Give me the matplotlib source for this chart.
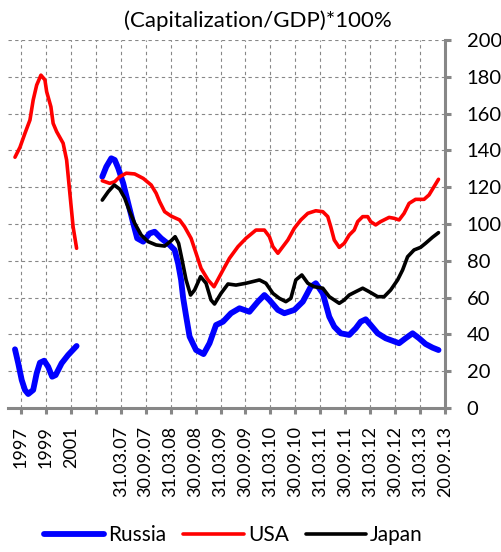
import matplotlib
matplotlib.use("Agg")
import matplotlib.pyplot as plt

plt.rcParams['font.family'] = ['Lato', 'DejaVu Sans']

tick_labels = ["1997", "1999", "2001", "",
               "31.03.07", "30.09.07", "31.03.08", "30.09.08", "31.03.09",
               "30.09.09", "31.03.10", "30.09.10", "31.03.11", "30.09.11",
               "31.03.12", "30.09.12", "31.03.13", "20.09.13"]

# 1997-2001 part (x in years)
usa_early_t = [1996.52, 1996.92, 1997.32, 1997.72, 1997.98, 1998.26, 1998.6, 1998.92,
               1999.06, 1999.4, 1999.58, 1999.86, 2000.38, 2000.66, 2000.92, 2001.18, 2001.46]
usa_early = [136.3, 141.7, 149.3, 156.5, 167.4, 175.5, 180.9, 178.3,
             171.9, 163.7, 154.7, 150.2, 143.9, 134.8, 116.7, 98.5, 86.8]

rus_early_t = [1996.52, 1996.78, 1997.06, 1997.32, 1997.58, 1997.98, 1998.26, 1998.52,
               1998.86, 1999.18, 1999.5, 1999.78, 2000.26, 2000.78, 2001.46]
rus_early = [31.9, 24.3, 15.2, 9.8, 7.6, 9.8, 18.9, 24.6,
             25.7, 22.4, 17.0, 17.9, 24.3, 28.8, 33.7]

# 2007-2013 part (x in years)
rus_t = [2006.88, 2006.96, 2007.06, 2007.13, 2007.2, 2007.3, 2007.4, 2007.5, 2007.58,
         2007.7, 2007.83, 2007.93, 2008.06, 2008.23, 2008.33, 2008.4, 2008.46, 2008.5,
         2008.56, 2008.63, 2008.76, 2008.91, 2009.03, 2009.16, 2009.3, 2009.46, 2009.63,
         2009.83, 2010.0, 2010.13, 2010.23, 2010.4, 2010.53, 2010.73, 2010.9, 2011.06,
         2011.16, 2011.3, 2011.43, 2011.53, 2011.66, 2011.83, 2011.96, 2012.06, 2012.16,
         2012.26, 2012.4, 2012.56, 2012.83, 2012.96, 2013.1, 2013.23, 2013.36, 2013.5, 2013.62]
rus = [125.7, 131.1, 135.7, 134.8, 130.3, 122.1, 111.2, 100.4, 92.2,
       90.4, 94.9, 95.8, 92.2, 88.6, 85.9, 78.6, 69.6, 60.0,
       50.0, 38.8, 31.5, 29.3, 35.2, 45.1, 46.9, 51.5, 54.2,
       52.3, 57.8, 61.4, 58.7, 53.3, 51.5, 53.3, 57.8, 65.9,
       67.8, 62.3, 49.6, 44.2, 40.6, 39.7, 43.3, 46.9, 48.2,
       45.1, 40.6, 37.9, 35.2, 37.9, 40.6, 37.9, 34.8, 32.8, 31.5]

usa_t = [2006.88, 2007.03, 2007.13, 2007.23, 2007.36, 2007.53, 2007.7, 2007.86, 2007.96,
         2008.03, 2008.13, 2008.26, 2008.43, 2008.53, 2008.66, 2008.76, 2008.86, 2009.0,
         2009.12, 2009.3, 2009.43, 2009.6, 2009.76, 2009.96, 2010.13, 2010.23, 2010.3,
         2010.4, 2010.5, 2010.6, 2010.73, 2010.86, 2011.0, 2011.16, 2011.3, 2011.4,
         2011.46, 2011.53, 2011.63, 2011.73, 2011.83, 2011.93, 2012.0, 2012.1, 2012.2,
         2012.26, 2012.36, 2012.46, 2012.63, 2012.73, 2012.83, 2012.93, 2013.03, 2013.16,
         2013.33, 2013.43, 2013.53, 2013.62]
usa = [123.5, 122.1, 123.0, 125.7, 127.6, 127.2, 124.8, 121.2, 116.7,
       112.1, 106.7, 104.3, 102.2, 98.5, 92.2, 84.1, 75.9, 69.6,
       65.9, 75.0, 81.4, 87.7, 92.2, 96.7, 96.7, 93.1, 87.7,
       84.1, 87.7, 91.3, 97.7, 102.2, 105.8, 107.2, 106.7, 104.0,
       98.5, 91.3, 87.3, 89.5, 94.0, 96.7, 101.3, 104.0, 104.0,
       101.3, 99.5, 101.3, 103.6, 103.1, 102.2, 105.8, 111.2, 113.4,
       113.4, 115.8, 120.3, 124.3]

jpn_t = [2006.88, 2007.0, 2007.12, 2007.23, 2007.33, 2007.43, 2007.53, 2007.66, 2007.8,
         2007.96, 2008.13, 2008.26, 2008.34, 2008.41, 2008.48, 2008.56, 2008.65, 2008.73,
         2008.85, 2008.96, 2009.06, 2009.13, 2009.26, 2009.4, 2009.56, 2009.76, 2010.03,
         2010.16, 2010.3, 2010.43, 2010.56, 2010.66, 2010.76, 2010.88, 2011.0, 2011.13,
         2011.3, 2011.43, 2011.63, 2011.73, 2011.83, 2011.96, 2012.1, 2012.23, 2012.4,
         2012.53, 2012.66, 2012.8, 2012.9, 2013.0, 2013.13, 2013.26, 2013.36, 2013.5, 2013.62]
jpn = [113.0, 117.6, 121.2, 118.9, 114.0, 106.7, 100.4, 94.0, 90.4,
       88.6, 88.0, 90.9, 93.1, 89.5, 80.4, 69.6, 61.4, 64.1,
       71.4, 67.8, 58.7, 56.5, 62.3, 67.4, 66.8, 67.8, 69.6,
       67.8, 62.3, 59.6, 57.8, 59.6, 69.6, 72.3, 67.8, 65.9,
       65.1, 60.5, 56.9, 58.7, 61.4, 63.2, 65.1, 63.2, 60.5,
       60.5, 64.1, 69.6, 75.0, 82.2, 85.9, 87.3, 89.5, 92.8, 95.3]


def early_pos(ts):
    return [(t - 1997) / 2 for t in ts]


def late_pos(ts):
    return [4 + (t - 2007.25) * 2 for t in ts]


grey = "#878787"
fig = plt.figure(figsize=(5.02, 5.52), dpi=100)
ax = fig.add_axes([8 / 502, 1 - 408 / 552, 437 / 502, 368 / 552])

ax.plot(early_pos(rus_early_t), rus_early, color="#0000ff", lw=4.2, solid_capstyle="round")
ax.plot(late_pos(rus_t), rus, color="#0000ff", lw=4.2, solid_capstyle="round", label="Russia")
ax.plot(early_pos(usa_early_t), usa_early, color="#ff0000", lw=2.6, solid_capstyle="round")
ax.plot(late_pos(usa_t), usa, color="#ff0000", lw=2.6, solid_capstyle="round", label="USA")
ax.plot(late_pos(jpn_t), jpn, color="black", lw=2.6, solid_capstyle="round", label="Japan")

ax.set_xlim(-0.52, 16.96)
ax.set_ylim(0, 200)
ax.set_xticks(range(len(tick_labels)))
ax.set_xticklabels(tick_labels, rotation=90, fontsize=13)
ax.set_yticks(range(0, 201, 20))
ax.yaxis.tick_right()
ax.tick_params(axis="y", labelsize=14.5, direction="out", length=4.5, width=2.2,
               color=grey, pad=11)
ax.tick_params(axis="x", direction="out", length=4, width=2.2, color=grey, pad=9)

ax.grid(True, color=grey, lw=0.8, linestyle=(0, (3, 3)))
ax.set_axisbelow(True)
for side in ["left", "top"]:
    ax.spines[side].set_visible(False)
for side in ["bottom", "right"]:
    ax.spines[side].set_color(grey)
    ax.spines[side].set_linewidth(2.2)

fig.text(0.514, 0.963, "(Capitalization/GDP)*100%", ha="center", va="center", fontsize=16)

fig.legend(loc="center", bbox_to_anchor=(0.465, 0.03), ncol=3, frameon=False,
           fontsize=15, handlelength=2.9, handletextpad=0.2, columnspacing=0.8)

fig.savefig("out.png", dpi=100)
